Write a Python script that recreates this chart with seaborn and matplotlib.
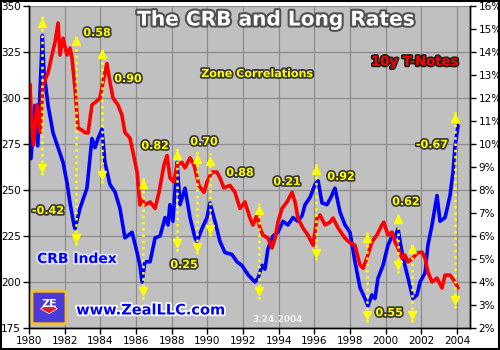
import matplotlib
matplotlib.use('Agg')
import matplotlib.pyplot as plt
import matplotlib.patheffects as pe
from matplotlib.patches import Rectangle, Wedge, FancyBboxPatch
import seaborn as sns

# CRB Index (left axis)
crb_year = [1980.0, 1980.11, 1980.34, 1980.49, 1980.75, 1980.84, 1981.07, 1981.35, 1981.63, 1981.91,
            1982.13, 1982.3, 1982.52, 1982.58, 1982.86, 1983.25, 1983.53, 1983.7, 1983.87, 1984.09,
            1984.26, 1984.54, 1984.82, 1985.1, 1985.38, 1985.78, 1986.06, 1986.22, 1986.34, 1986.5,
            1986.79, 1987.07, 1987.35, 1987.63, 1987.8, 1987.9, 1988.07, 1988.3, 1988.47, 1988.75,
            1989.03, 1989.31, 1989.42, 1989.7, 1989.98, 1990.15, 1990.43, 1990.71, 1990.99, 1991.38,
            1991.66, 1991.94, 1992.28, 1992.67, 1992.84, 1993.07, 1993.23, 1993.4, 1993.68, 1993.96,
            1994.24, 1994.52, 1994.8, 1995.08, 1995.31, 1995.48, 1995.76, 1996.04, 1996.21, 1996.43,
            1996.71, 1996.93, 1997.16, 1997.44, 1997.72, 1998.0, 1998.28, 1998.56, 1998.84, 1999.01,
            1999.23, 1999.4, 1999.57, 1999.85, 2000.13, 2000.36, 2000.52, 2000.69, 2000.92, 2001.08,
            2001.36, 2001.53, 2001.76, 2001.93, 2002.21, 2002.37, 2002.6, 2002.88, 2003.05, 2003.33,
            2003.61, 2003.78, 2003.89, 2004.06]
crb_value = [284, 267, 296, 274, 334, 314, 296, 281, 273, 265,
             254, 243, 231, 229, 240, 251, 278, 273, 278, 283,
             265, 253, 249, 240, 224, 227, 216, 209, 200, 211,
             211, 224, 225, 235, 231, 242, 233, 265, 242, 251,
             235, 224, 222, 229, 235, 243, 233, 222, 216, 215,
             211, 209, 204, 200, 202, 209, 207, 218, 225, 227,
             233, 231, 235, 233, 236, 242, 246, 253, 255, 243,
             242, 246, 251, 238, 231, 227, 211, 197, 191, 187,
             193, 191, 202, 209, 220, 225, 224, 229, 216, 209,
             198, 191, 193, 200, 205, 220, 231, 247, 233, 235,
             247, 260, 274, 285]

# 10y T-Note yield (right axis, %)
tn_year = [1980.0, 1980.05, 1980.15, 1980.25, 1980.45, 1980.62, 1980.78, 1981.07, 1981.29, 1981.46,
           1981.63, 1981.74, 1981.91, 1982.13, 1982.3, 1982.41, 1982.58, 1982.75, 1982.97, 1983.14,
           1983.31, 1983.53, 1983.7, 1983.98, 1984.15, 1984.37, 1984.54, 1984.71, 1984.99, 1985.21,
           1985.38, 1985.66, 1985.83, 1986.06, 1986.22, 1986.34, 1986.5, 1986.79, 1987.07, 1987.29,
           1987.57, 1987.74, 1987.91, 1988.13, 1988.3, 1988.58, 1988.75, 1989.03, 1989.25, 1989.53,
           1989.81, 1989.98, 1990.26, 1990.54, 1990.71, 1990.93, 1991.27, 1991.55, 1991.83, 1992.11,
           1992.39, 1992.56, 1992.79, 1992.95, 1993.12, 1993.4, 1993.63, 1993.8, 1993.96, 1994.19,
           1994.47, 1994.75, 1994.92, 1995.08, 1995.36, 1995.64, 1995.93, 1996.15, 1996.32, 1996.6,
           1996.88, 1997.05, 1997.33, 1997.72, 1998.0, 1998.28, 1998.56, 1998.73, 1998.95, 1999.23,
           1999.51, 1999.79, 1999.9, 2000.13, 2000.36, 2000.52, 2000.69, 2000.92, 2001.08, 2001.25,
           2001.53, 2001.76, 2002.04, 2002.21, 2002.37, 2002.6, 2002.88, 2003.16, 2003.33, 2003.61,
           2003.89, 2004.06]
tn_rate = [11.5, 12.6, 11.0, 9.96, 11.7, 10.5, 12.56, 13.1, 13.87, 14.43,
           15.26, 13.87, 14.6, 13.87, 14.17, 13.74, 12.4, 10.7, 10.6, 10.5,
           10.48, 11.7, 11.8, 12.0, 12.7, 13.5, 12.7, 12.0, 11.7, 11.26,
           10.5, 10.26, 9.65, 8.78, 7.35, 7.6, 7.35, 7.48, 7.2, 7.9,
           9.09, 9.5, 8.52, 8.35, 9.09, 9.2, 8.96, 9.4, 9.09, 8.2,
           7.9, 8.35, 8.78, 8.78, 8.52, 8.09, 8.2, 7.9, 7.2, 7.48,
           6.78, 6.48, 6.91, 6.35, 6.04, 5.91, 5.48, 5.91, 6.6, 7.2,
           7.48, 7.9, 7.48, 6.78, 6.35, 6.04, 5.6, 6.78, 6.91, 6.48,
           6.6, 6.78, 6.35, 5.91, 5.7, 5.6, 4.74, 4.6, 5.04, 5.74,
           6.04, 6.48, 6.6, 6.04, 6.17, 5.74, 5.48, 5.04, 5.17, 4.87,
           5.04, 5.26, 5.3, 5.04, 4.43, 4.0, 4.17, 3.74, 4.3, 4.3,
           4.0, 3.74]

# zone boundaries (dotted yellow arrows), in CRB units
zone_year = [1980.73, 1982.65, 1984.1, 1986.4, 1988.3, 1989.4, 1990.15,
             1992.9, 1996.1, 1998.95, 2000.7, 2001.5, 2003.9]
zone_top = [345, 335, 328, 257, 273, 271, 270, 243, 265, 228, 238, 222, 293]
zone_bottom = [258, 220, 254, 191, 217, 215, 225, 191, 212, 178, 205, 178, 186]

# zone correlation labels
corr_text = ['0.58', '0.90', '-0.42', '0.82', '0.70', '0.88',
             '0.25', '0.21', '0.92', '0.62', '-0.67', '0.55']
corr_year = [1983.81, 1985.55, 1981.07, 1987.07, 1989.81, 1991.83,
             1988.69, 1994.47, 1997.5, 2001.14, 2002.6, 2000.19]
corr_level = [335.3, 310.3, 238.6, 273.9, 276.1, 259.2,
              209.2, 254.3, 257.1, 243.5, 274.5, 183.1]

sns.set_theme(style='ticks')
plt.rcParams['font.family'] = ['DejaVu Sans']

fig = plt.figure(figsize=(5, 3.5), dpi=100)
fig.patch.set_facecolor('white')
ax = fig.add_axes([29 / 500, 22 / 350, 441 / 500, 322 / 350])
ax.set_facecolor('#C0C0C0')

sns.lineplot(x=crb_year, y=crb_value, ax=ax, color='#0000FF', lw=2.6, estimator=None)
ax2 = ax.twinx()
sns.lineplot(x=tn_year, y=tn_rate, ax=ax2, color='#FF0000', lw=2.6, estimator=None)

# zone arrows on top of both lines
ax2.vlines(zone_year, zone_bottom, zone_top, colors='#FFFF00', linestyles=(0, (1, 1.5)),
           lw=1.8, transform=ax.transData, zorder=5)
ax2.plot(zone_year, [t - 4 for t in zone_top], ls='none', marker='^', ms=6, color='#FFFF00',
         transform=ax.transData, zorder=6)
ax2.plot(zone_year, [b + 4 for b in zone_bottom], ls='none', marker='v', ms=6, color='#FFFF00',
         transform=ax.transData, zorder=6)

yellow_fx = [pe.withStroke(linewidth=2.5, foreground='#3a3a3a')]
for t, xx, yy in zip(corr_text, corr_year, corr_level):
    ax2.text(xx, yy, t, transform=ax.transData, ha='center', va='center', fontsize=8,
             fontweight='bold', color='#FFFF00', path_effects=yellow_fx, zorder=7)

ax.set_xlim(1980, 2004.73)
ax.set_ylim(175, 350)
ax2.set_ylim(2, 16)
ax.set_xticks(range(1980, 2005, 2))
ax.set_yticks(range(175, 351, 25))
ax2.set_yticks(range(2, 17))
ax2.set_yticklabels([f'{v}%' for v in range(2, 17)])
ax.set_xlabel('')
ax.set_ylabel('')
ax2.set_ylabel('')

ax.grid(True, color='#8c8c8c', lw=0.9)
for a in (ax, ax2):
    a.tick_params(labelsize=7.5, length=4, width=1, color='black', labelcolor='black', pad=2)
    a.spines['top'].set_visible(False)
    for s in ('left', 'bottom', 'right'):
        a.spines[s].set_color('black')
        a.spines[s].set_linewidth(1)

# titles and notes
fig.text(276 / 500, 1 - 20 / 350, 'The CRB and Long Rates', ha='center', va='center',
         fontsize=14.5, fontweight='bold', color='white',
         path_effects=[pe.withStroke(linewidth=3, foreground='#505050')])
fig.text(257 / 500, 1 - 74 / 350, 'Zone Correlations', ha='center', va='center',
         fontsize=8, fontweight='bold', color='#FFFF00', path_effects=yellow_fx)
fig.text(415 / 500, 1 - 62 / 350, '10y T-Notes', ha='center', va='center',
         fontsize=9.5, fontweight='bold', color='#FF0000',
         path_effects=[pe.withStroke(linewidth=2.5, foreground='#202020')])
fig.text(77 / 500, 1 - 259 / 350, 'CRB Index', ha='center', va='center',
         fontsize=10, fontweight='bold', color='#0000FF',
         path_effects=[pe.withStroke(linewidth=2.5, foreground='#e6e6f0')])
fig.text(151 / 500, 1 - 310 / 350, 'www.ZealLLC.com', ha='center', va='center',
         fontsize=10.5, fontweight='bold', color='#0000FF',
         path_effects=[pe.withStroke(linewidth=2.5, foreground='white')])
fig.text(278 / 500, 1 - 320 / 350, '3.24.2004', ha='center', va='center',
         fontsize=6.5, fontweight='bold', color='#f4f4f4')

# small logo
lx, ly, lw_, lh = 33 / 500, 1 - 323 / 350, 32 / 500, 31 / 350
fig.patches.append(FancyBboxPatch((lx, ly), lw_, lh, boxstyle='round,pad=0.002',
                                  transform=fig.transFigure, facecolor='#4b3bd6',
                                  edgecolor='#f0c030', lw=2))
fig.patches.append(Wedge((lx + lw_ * 0.5, ly + lh * 0.3), 0.022, 40, 140,
                         transform=fig.transFigure, facecolor='#e02020', edgecolor='white', lw=0.5))
fig.text(lx + lw_ * 0.5, ly + lh * 0.62, 'ZE', ha='center', va='center', fontsize=8,
         fontweight='bold', color='white')

# outer frame
fig.patches.append(Rectangle((0.001, 0.002), 0.997, 0.996, transform=fig.transFigure,
                             fill=False, edgecolor='black', lw=1.5))

fig.savefig('out.png', dpi=100)
